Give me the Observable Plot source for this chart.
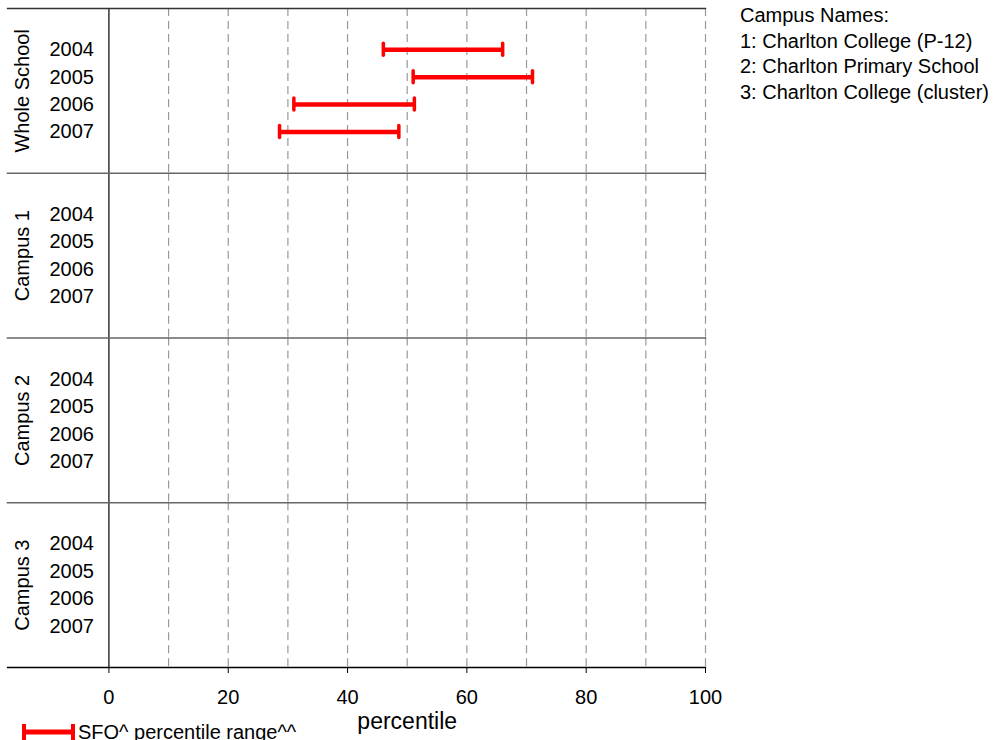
<!DOCTYPE html>
<html>
<head>
<meta charset="utf-8">
<script src="https://cdn.jsdelivr.net/npm/d3@7"></script>
<script src="https://cdn.jsdelivr.net/npm/@observablehq/plot@0.6"></script>
<style>
  html, body { margin: 0; padding: 0; background: #fff; }
  body { width: 997px; height: 740px; overflow: hidden; position: relative;
         font-family: Arial, "Liberation Sans", sans-serif; }
  #chart { position: absolute; left: 0; top: 0; }
  .names { position: absolute; left: 740px; top: 3px; font-size: 20px; line-height: 25.7px; color: #000; }
  .legend { position: absolute; left: 20px; top: 721px; font-size: 20px; color: #000; white-space: nowrap; display: flex; align-items: flex-start; }
  .legend svg { display: block; }
</style>
</head>
<body>
<div id="chart"></div>
<div class="names">
  <div>Campus Names:</div>
  <div>1: Charlton College (P-12)</div>
  <div>2: Charlton Primary School</div>
  <div>3: Charlton College (cluster)</div>
</div>
<div class="legend">
  <svg width="58" height="20"><line x1="4" x2="54" y1="11" y2="11" stroke="#ff0000" stroke-width="5"/><line x1="4" x2="4" y1="3" y2="19" stroke="#ff0000" stroke-width="4"/><line x1="53" x2="53" y1="3" y2="19" stroke="#ff0000" stroke-width="4"/></svg>
  <span>SFO^ percentile range^^</span>
</div>
<script>
const groups = ["Whole School", "Campus 1", "Campus 2", "Campus 3"];
const years = ["2004", "2005", "2006", "2007"];
const rangeGroup = ["Whole School", "Whole School", "Whole School", "Whole School"];
const rangeYear = ["2004", "2005", "2006", "2007"];
const rangeLow = [46, 51, 31, 28.6];
const rangeHigh = [66, 71, 51.2, 48.6];
const xTicks = [0, 20, 40, 60, 80, 100];
const gridValues = [10, 20, 30, 40, 50, 60, 70, 80, 90, 100];

const ranges = rangeLow.map((lo, i) => ({group: rangeGroup[i], year: rangeYear[i], lo, hi: rangeHigh[i]}));
const rows = groups.flatMap(g => years.map(y => ({group: g, year: y})));

const red = "#ff0000";
const plot = Plot.plot({
  width: 997,
  height: 740,
  marginTop: 8,
  marginBottom: 73,
  marginLeft: 7,
  marginRight: 292,
  style: {fontFamily: "Arial, 'Liberation Sans', sans-serif", fontSize: "20px", color: "#000", background: "#fff"},
  x: {domain: [-17, 100]},
  y: {type: "band", domain: years, paddingInner: 0.563, paddingOuter: 1.281, round: false, axis: null},
  fy: {domain: groups, padding: 0, round: false, axis: null},
  marks: [
    Plot.ruleX(gridValues, {stroke: "#999", strokeWidth: 1.2, strokeDasharray: "8,5"}),
    Plot.ruleX([0], {stroke: "#000", strokeWidth: 1.2}),
    Plot.frame({anchor: "top", fy: "Whole School", stroke: "#333", strokeWidth: 1.3}),
    Plot.frame({anchor: "bottom", fy: "Whole School", stroke: "#666", strokeWidth: 1.6}),
    Plot.frame({anchor: "bottom", fy: "Campus 1", stroke: "#666", strokeWidth: 1.6}),
    Plot.frame({anchor: "bottom", fy: "Campus 2", stroke: "#666", strokeWidth: 1.6}),
    Plot.frame({anchor: "bottom", fy: "Campus 3", stroke: "#000", strokeWidth: 1.3}),
    Plot.axisX({ticks: xTicks, tickSize: 6, tickPadding: 16, fontSize: 20, label: null, stroke: "#000"}),
    Plot.text(rows, {fy: "group", y: "year", x: 0, text: "year", textAnchor: "end", dx: -15, fontSize: 20, fill: "#000"}),
    Plot.text(groups, {fy: d => d, x: -17, dx: 15, text: d => d, rotate: -90, fontSize: 20, fill: "#000"}),
    Plot.text(["percentile"], {fy: () => "Campus 3", x: 50, frameAnchor: "bottom", dy: 61, text: d => d, fontSize: 23, fill: "#000"}),
    Plot.ruleY(ranges, {fy: "group", y: "year", x1: "lo", x2: "hi", stroke: red, strokeWidth: 4.5}),
    Plot.tickX(ranges, {fy: "group", y: "year", x: "lo", stroke: red, strokeWidth: 3.5, strokeLinecap: "round"}),
    Plot.tickX(ranges, {fy: "group", y: "year", x: "hi", stroke: red, strokeWidth: 3.5, strokeLinecap: "round"})
  ]
});
document.getElementById("chart").appendChild(plot);
</script>
</body>
</html>
